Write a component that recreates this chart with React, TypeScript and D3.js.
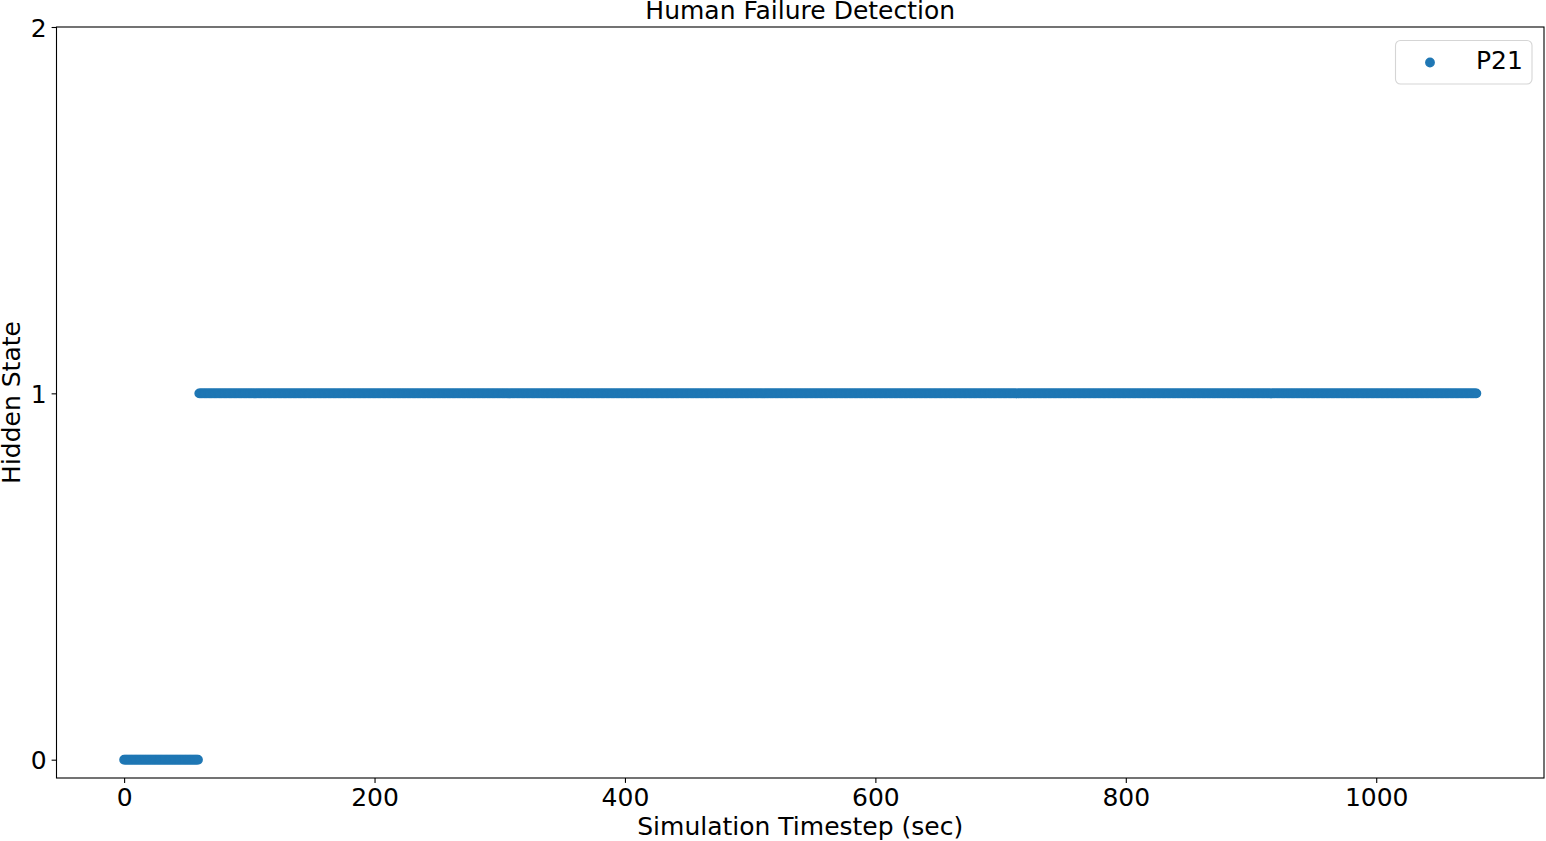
import React, { useRef, useEffect } from "react";
import * as d3 from "d3";

// hidden state: state held from start to end (sec), one sample per second
const runStart = [0, 60];
const runEnd = [59, 1080];
const runState = [0, 1];

const xTicks = [0, 200, 400, 600, 800, 1000];
const yTicks = [0, 1, 2];
const seriesName = "P21";

const W = 1546;
const H = 841;
const plot = { left: 56.5, right: 1544, top: 27, bottom: 778 };
const FONT = "'DejaVu Sans', sans-serif";
const FS = 25;
const BLUE = "#1f77b4";

const App = () => {
  const svgRef = useRef<SVGSVGElement>(null);

  useEffect(() => {
    const svg = d3.select(svgRef.current);
    svg.selectAll("*").remove();

    const points: { t: number; s: number }[] = [];
    runStart.forEach((start, i) => {
      d3.range(start, runEnd[i] + 1).forEach(t => points.push({ t, s: runState[i] }));
    });

    const xScale = d3.scaleLinear().domain([-54, 1134]).range([plot.left, plot.right]);
    const yScale = d3.scaleLinear().domain([-0.05, 2]).range([plot.bottom, plot.top]);

    // markers
    svg
      .append("g")
      .selectAll("circle")
      .data(points)
      .join("circle")
      .attr("cx", d => xScale(d.t))
      .attr("cy", d => yScale(d.s))
      .attr("r", 4.2)
      .attr("fill", BLUE)
      .attr("stroke", BLUE)
      .attr("stroke-width", 1.4);

    // axes
    const xAxis = d3.axisBottom(xScale).tickValues(xTicks).tickSize(4.9).tickPadding(5.3).tickFormat(d3.format("d"));
    const gx = svg.append("g").attr("transform", `translate(0,${plot.bottom})`).call(xAxis);
    const yAxis = d3.axisLeft(yScale).tickValues(yTicks).tickSize(4.9).tickPadding(5).tickFormat(d3.format("d"));
    const gy = svg.append("g").attr("transform", `translate(${plot.left},0)`).call(yAxis);
    [gx, gy].forEach(g => {
      g.select(".domain").remove();
      g.selectAll(".tick line").attr("stroke", "#000").attr("stroke-width", 1.1);
      g.selectAll(".tick text")
        .attr("fill", "#000")
        .style("font-family", FONT)
        .style("font-size", `${FS}px`);
    });
    gy.selectAll(".tick text").attr("dy", "0.36em");

    // spines
    svg
      .append("rect")
      .attr("x", plot.left)
      .attr("y", plot.top)
      .attr("width", plot.right - plot.left)
      .attr("height", plot.bottom - plot.top)
      .attr("fill", "none")
      .attr("stroke", "#000")
      .attr("stroke-width", 1.1);

    const text = (x: number, y: number, s: string, anchor = "middle") =>
      svg
        .append("text")
        .attr("x", x)
        .attr("y", y)
        .attr("text-anchor", anchor)
        .style("font-family", FONT)
        .style("font-size", `${FS}px`)
        .attr("fill", "#000")
        .text(s);

    text((plot.left + plot.right) / 2, 19, "Human Failure Detection");
    text((plot.left + plot.right) / 2, 835, "Simulation Timestep (sec)");
    text(0, 0, "Hidden State").attr("transform", `translate(20,${(plot.top + plot.bottom) / 2}) rotate(-90)`);

    // legend
    const lg = svg.append("g");
    lg.append("rect")
      .attr("x", 1395.5)
      .attr("y", 40.5)
      .attr("width", 136.5)
      .attr("height", 43.5)
      .attr("rx", 5)
      .attr("fill", "#fff")
      .attr("fill-opacity", 0.8)
      .attr("stroke", "#d5d5d5")
      .attr("stroke-width", 1.1);
    lg.append("circle").attr("cx", 1430).attr("cy", 62.5).attr("r", 4.2).attr("fill", BLUE).attr("stroke", BLUE).attr("stroke-width", 1.4);
    text(1476, 68.5, seriesName, "start");
  }, []);

  return (
    <div style={{ position: "absolute", left: 0, top: 0 }}>
      <svg ref={svgRef} width={W} height={H} style={{ display: "block", background: "#fff" }} />
    </div>
  );
};

export default App;
